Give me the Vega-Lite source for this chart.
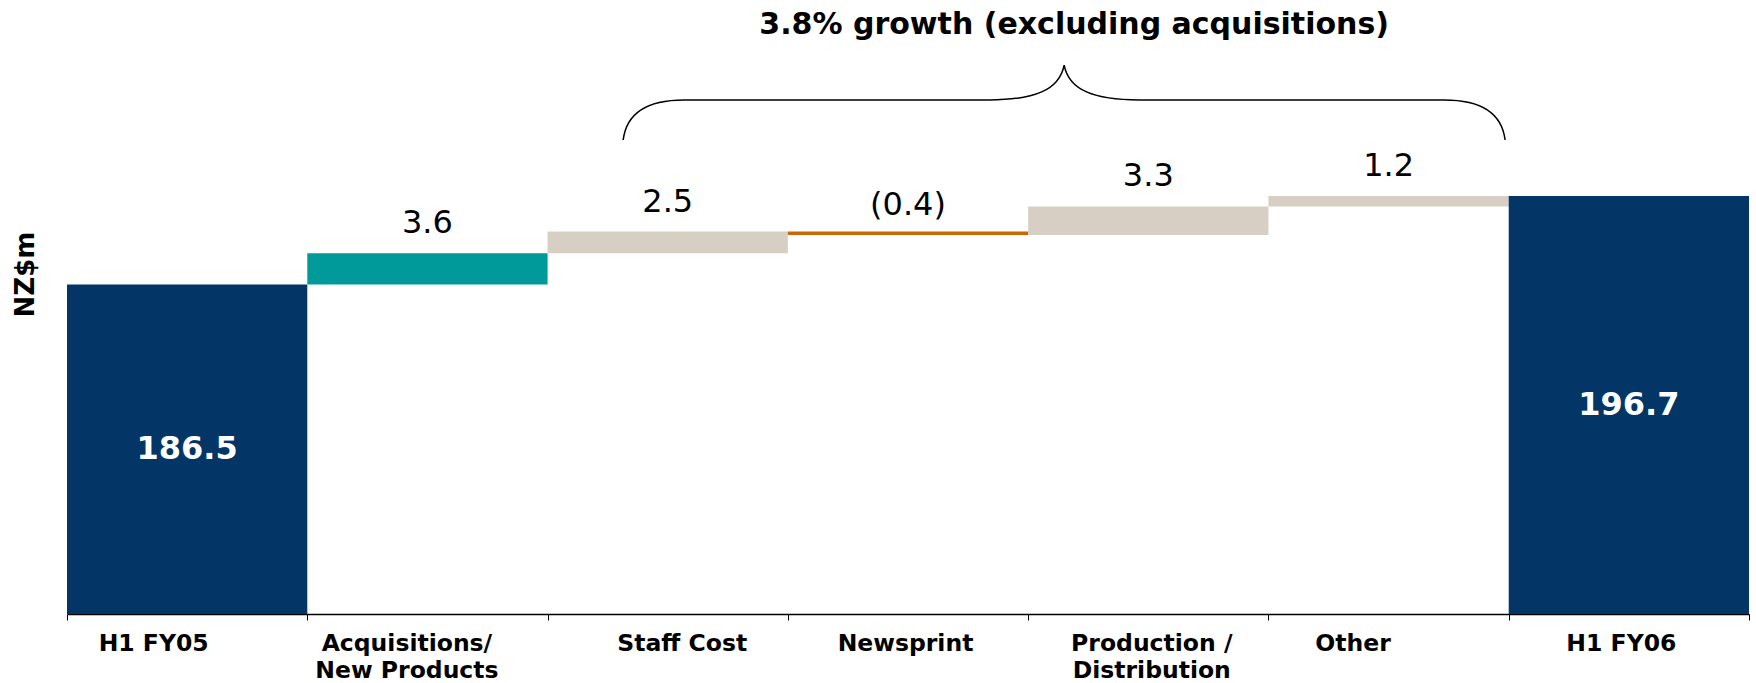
{
  "$schema": "https://vega.github.io/schema/vega-lite/v6.json",
  "width": 1682,
  "height": 614,
  "autosize": {"type": "none"},
  "padding": {"left": 67, "top": 0, "right": 7, "bottom": 69},
  "background": "white",
  "config": {
    "view": {"stroke": null},
    "font": "DejaVu Sans",
    "axisY": {"labels": false, "ticks": false, "domain": false, "grid": false, "titleFont": "DejaVu Sans", "titleFontWeight": "bold", "titleFontSize": 26, "titleColor": "black", "titleX": -42, "titleY": 274, "titleAngle": -90, "titleAlign": "center", "titleBaseline": "middle"},
    "axisX": {"domainColor": "black", "domainWidth": 1.5, "tickColor": "black", "tickSize": 6, "tickWidth": 1, "tickBand": "extent", "labelFont": "DejaVu Sans", "labelFontSize": 23.5, "labelFontWeight": "bold", "labelColor": "black", "labelAngle": 0, "labelPadding": 11, "labelLineHeight": 27, "labelBaseline": "top", "labelOverlap": false, "labelLimit": 400, "grid": false}
  },
  "datasets": {
    "steps": [
      {"cat": "H1 FY05", "start": 0, "end": 186.5, "kind": "total", "label": "186.5"},
      {"cat": "Acquisitions/New Products", "start": 186.5, "end": 190.1, "kind": "acq", "label": "3.6"},
      {"cat": "Staff Cost", "start": 190.1, "end": 192.6, "kind": "up", "label": "2.5"},
      {"cat": "Newsprint", "start": 192.6, "end": 192.2, "kind": "down", "label": "(0.4)"},
      {"cat": "Production / Distribution", "start": 192.2, "end": 195.5, "kind": "up", "label": "3.3"},
      {"cat": "Other", "start": 195.5, "end": 196.7, "kind": "up", "label": "1.2"},
      {"cat": "H1 FY06", "start": 0, "end": 196.7, "kind": "total", "label": "196.7"}
    ],
    "notes": [
      {"note": "3.8% growth (excluding acquisitions)", "anchor": "Production / Distribution"}
    ]
  },
  "data": {"name": "steps"},
  "encoding": {
    "x": {
      "field": "cat", "type": "nominal", "sort": null, "title": null,
      "scale": {"domain": ["H1 FY05", "Acquisitions/New Products", "Staff Cost", "Newsprint", "Production / Distribution", "Other", "H1 FY06"], "paddingInner": 0, "paddingOuter": 0},
      "axis": {
        "labelExpr": "datum.value == 'Acquisitions/New Products' ? ['Acquisitions/', 'New Products'] : datum.value == 'Production / Distribution' ? ['Production /', 'Distribution'] : datum.label",
        "labelOffset": {"condition": [
          {"test": "datum.value == 'H1 FY05'", "value": -34},
          {"test": "datum.value == 'Acquisitions/New Products'", "value": -21},
          {"test": "datum.value == 'Staff Cost'", "value": 14},
          {"test": "datum.value == 'Newsprint'", "value": -3},
          {"test": "datum.value == 'Production / Distribution'", "value": 3},
          {"test": "datum.value == 'Other'", "value": -36},
          {"test": "datum.value == 'H1 FY06'", "value": -8}
        ], "value": 0}
      }
    }
  },
  "layer": [
    {
      "mark": {"type": "bar", "clip": true},
      "encoding": {
        "y": {"field": "start", "type": "quantitative", "title": "NZ$m", "scale": {"domain": [148.5, 219.3], "zero": false, "nice": false}},
        "y2": {"field": "end"},
        "color": {"field": "kind", "type": "nominal", "legend": null, "scale": {"domain": ["total", "acq", "up", "down"], "range": ["#033566", "#009A9A", "#D7CFC3", "#CC6600"]}}
      }
    },
    {
      "transform": [{"filter": "datum.kind != 'total'"}],
      "mark": {"type": "text", "fontSize": 32, "baseline": "alphabetic", "dy": -20, "color": "black"},
      "encoding": {
        "y": {"field": "end", "type": "quantitative", "title": "NZ$m"},
        "text": {"field": "label"}
      }
    },
    {
      "transform": [{"filter": "datum.kind == 'total'"}, {"calculate": "(datum.end + 148.5) / 2", "as": "mid"}],
      "mark": {"type": "text", "fontSize": 32, "fontWeight": "bold", "baseline": "middle", "color": "white"},
      "encoding": {
        "y": {"field": "mid", "type": "quantitative", "title": "NZ$m"},
        "text": {"field": "label"}
      }
    },
    {
      "data": {"name": "notes"},
      "mark": {"type": "text", "fontSize": 30, "fontWeight": "bold", "baseline": "middle", "color": "black", "xOffset": 46},
      "encoding": {
        "x": {"field": "anchor", "type": "nominal", "bandPosition": 0},
        "y": {"datum": 216.4, "type": "quantitative"},
        "text": {"field": "note"}
      }
    },
    {
      "data": {"name": "notes"},
      "mark": {"type": "point", "filled": false, "stroke": "black", "strokeWidth": 1.5, "opacity": 1, "xOffset": 36, "size": 777924,
        "shape": "M -1 0.170 C -0.993 0.113 -0.952 0.079 -0.862 0.079 L -0.17 0.079 C -0.068 0.079 -0.011 0.057 0 0 C 0.011 0.057 0.068 0.079 0.17 0.079 L 0.862 0.079 C 0.952 0.079 0.993 0.113 1 0.170"},
      "encoding": {
        "x": {"field": "anchor", "type": "nominal", "bandPosition": 0},
        "y": {"datum": 211.8, "type": "quantitative"}
      }
    }
  ]
}
